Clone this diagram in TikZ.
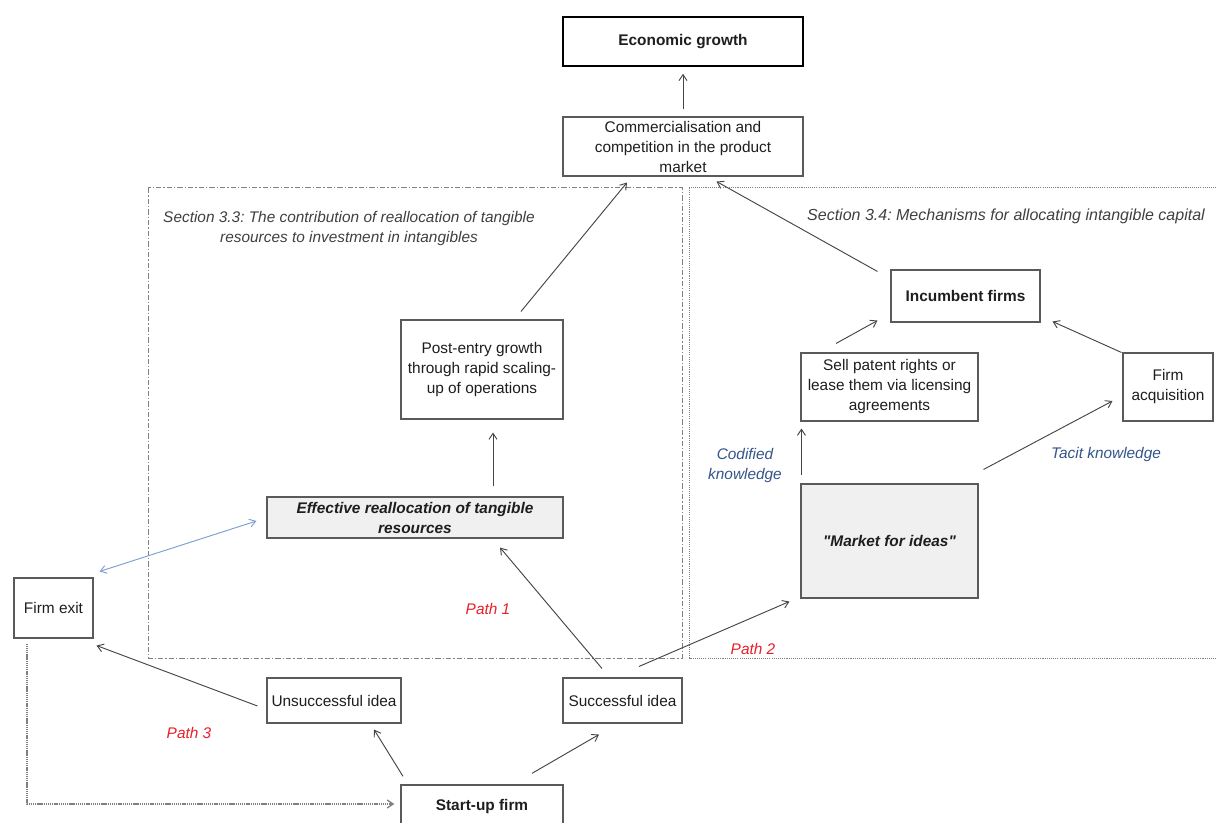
\documentclass[tikz,border=0pt]{standalone}
\usepackage{fontspec}
\setmainfont{Liberation Sans}[Ligatures=TeXOff]
\usetikzlibrary{arrows.meta,calc}
\frenchspacing
\definecolor{boxline}{HTML}{5A5A5A}
\definecolor{arrline}{HTML}{454545}
\definecolor{txt}{HTML}{1E1E1E}
\definecolor{pathred}{HTML}{E8202A}
\definecolor{knowblue}{HTML}{34558A}
\definecolor{lightblue}{HTML}{7F9ED0}
\definecolor{fillgray}{HTML}{F0F0F0}
\definecolor{regline}{HTML}{808080}
\tikzset{
  box/.style={draw=boxline, line width=0.8pt, inner sep=0pt, align=center, text=txt,
    font=\fontsize{11.55}{15}\selectfont},
  shaded/.style={box, fill=fillgray},
  arr/.style={draw=arrline, line width=0.7pt, -{Straight Barb[length=4.5pt,width=6pt]}},
  lbl/.style={inner sep=0pt, align=center, font=\fontsize{11.55}{15}\selectfont\itshape},
  region1/.style={draw=regline, line width=0.75pt, dash pattern=on 4pt off 1.5pt on 1pt off 1.5pt},
  region2/.style={draw=regline, line width=0.75pt, dash pattern=on 0.8pt off 0.8pt},
}
\begin{document}
\begin{tikzpicture}[x=0.75pt,y=-0.75pt]
\useasboundingbox (0,0) rectangle (1217,823);
\clip (0,0) rectangle (1217,823);
\fill[white] (0,0) rectangle (1217,823);
% regions
\draw[region1] (148,188) rectangle (682,658);
\draw[region2] (689,188) rectangle (1224,658);
\node[lbl, text=txt!85] (s33) at (349,229) {Section 3.3: The contribution of reallocation of tangible\\resources to investment in intangibles};
\node[lbl, text=txt!85, font=\fontsize{12}{15}\selectfont\itshape] (s34) at (1006,216) {Section 3.4: Mechanisms for allocating intangible capital};
% nodes
\node[box, draw=black, line width=1.2pt, minimum width=180pt, minimum height=36.75pt, font=\fontsize{11.55}{15}\selectfont\bfseries] (eg) at (683,41.5) {Economic growth};
\node[box, minimum width=180pt, minimum height=44.25pt] (comm) at (683,146.5) {Commercialisation and\\competition in the product\\market};
\node[box, minimum width=121.5pt, minimum height=74.25pt] (post) at (482,369.5) {Post-entry growth\\through rapid scaling-\\up of operations};
\node[shaded, minimum width=222pt, minimum height=30.75pt, font=\fontsize{11.55}{15}\selectfont\bfseries\itshape] (eff) at (415,517.5) {Effective reallocation of tangible\\resources};
\node[box, minimum width=59.25pt, minimum height=45pt] (exit) at (53.5,608) {Firm exit};
\node[box, minimum width=100.5pt, minimum height=33.75pt] (unsucc) at (334,700.5) {Unsuccessful idea};
\node[box, minimum width=89.25pt, minimum height=33.75pt] (succ) at (622.5,700.5) {Successful idea};
\node[box, line width=1pt, minimum width=121.5pt, minimum height=33pt, font=\fontsize{11.55}{15}\selectfont\bfseries] (start) at (482,807) {Start-up firm};
\node[box, minimum width=111.75pt, minimum height=39pt, font=\fontsize{11.55}{15}\selectfont\bfseries] (inc) at (965.5,296) {Incumbent firms};
\node[box, minimum width=132.75pt, minimum height=51pt] (sell) at (889.5,387) {Sell patent rights or\\lease them via licensing\\agreements};
\node[box, minimum width=67.5pt, minimum height=51pt] (acq) at (1168,387) {Firm\\acquisition};
\node[shaded, minimum width=132.75pt, minimum height=85.5pt, font=\fontsize{11.55}{15}\selectfont\bfseries\itshape] (mkt) at (889.5,541) {"Market for ideas"};
% labels
\node[lbl, text=pathred] (p1) at (488,609) {Path 1};
\node[lbl, text=pathred] (p2) at (753,649) {Path 2};
\node[lbl, text=pathred] (p3) at (189,733) {Path 3};
\node[lbl, text=knowblue] (cod) at (745,466) {Codified\\knowledge};
\node[lbl, text=knowblue] (tac) at (1106,455) {Tacit knowledge};
% connectors
\draw[arr] ($(comm.north)+(0,-7)$) -- ($(eg.south)+(0,7)$);
\draw[arr] ($(post.north)+(39,-8)$) -- ($(comm.south)+(-56,6)$);
\draw[arr] ($(eff.north)+(78,-10)$) -- ($(post.south)+(11,13)$);
\draw[arr] ($(succ.north)+(-20.5,-9)$) -- ($(eff.south)+(85,9)$);
\draw[arr] ($(succ.north)+(16.5,-11)$) -- ($(mkt.south west)+(-11,3)$);
\draw[arr] ($(start.north)+(50,-11)$) -- ($(succ.south)+(-23.5,11)$);
\draw[arr] ($(start.north)+(-79,-8)$) -- ($(unsucc.south)+(40,6)$);
\draw[arr] ($(unsucc.west)+(-9,5.5)$) -- ($(exit.south east)+(3,7)$);
\draw[arr, draw=regline, line width=1pt, dash pattern=on 1pt off 0.6pt] ($(exit.south)+(-26.5,5)$) |- ($(start.west)+(-6,-3)$);
\draw[arr, draw=lightblue, {Straight Barb[length=4.5pt,width=6pt]}-{Straight Barb[length=4.5pt,width=6pt]}] ($(exit.north east)+(6,-6)$) -- ($(eff.west)+(-10,3.5)$);
\draw[arr] ($(mkt.north west)+(1,-8)$) -- ($(sell.south west)+(1,7)$);
\draw[arr] ($(mkt.north east)+(5,-14)$) -- ($(acq.west)+(-10,14)$);
\draw[arr] ($(sell.north)+(-53.5,-9)$) -- ($(inc.south west)+(-13,-2)$);
\draw[arr] ($(acq.north west)+(-1,0)$) -- ($(inc.south east)+(12,-1)$);
\draw[arr] ($(inc.north west)+(-13,2)$) -- ($(comm.south east)+(-87,5)$);
\end{tikzpicture}
\end{document}
